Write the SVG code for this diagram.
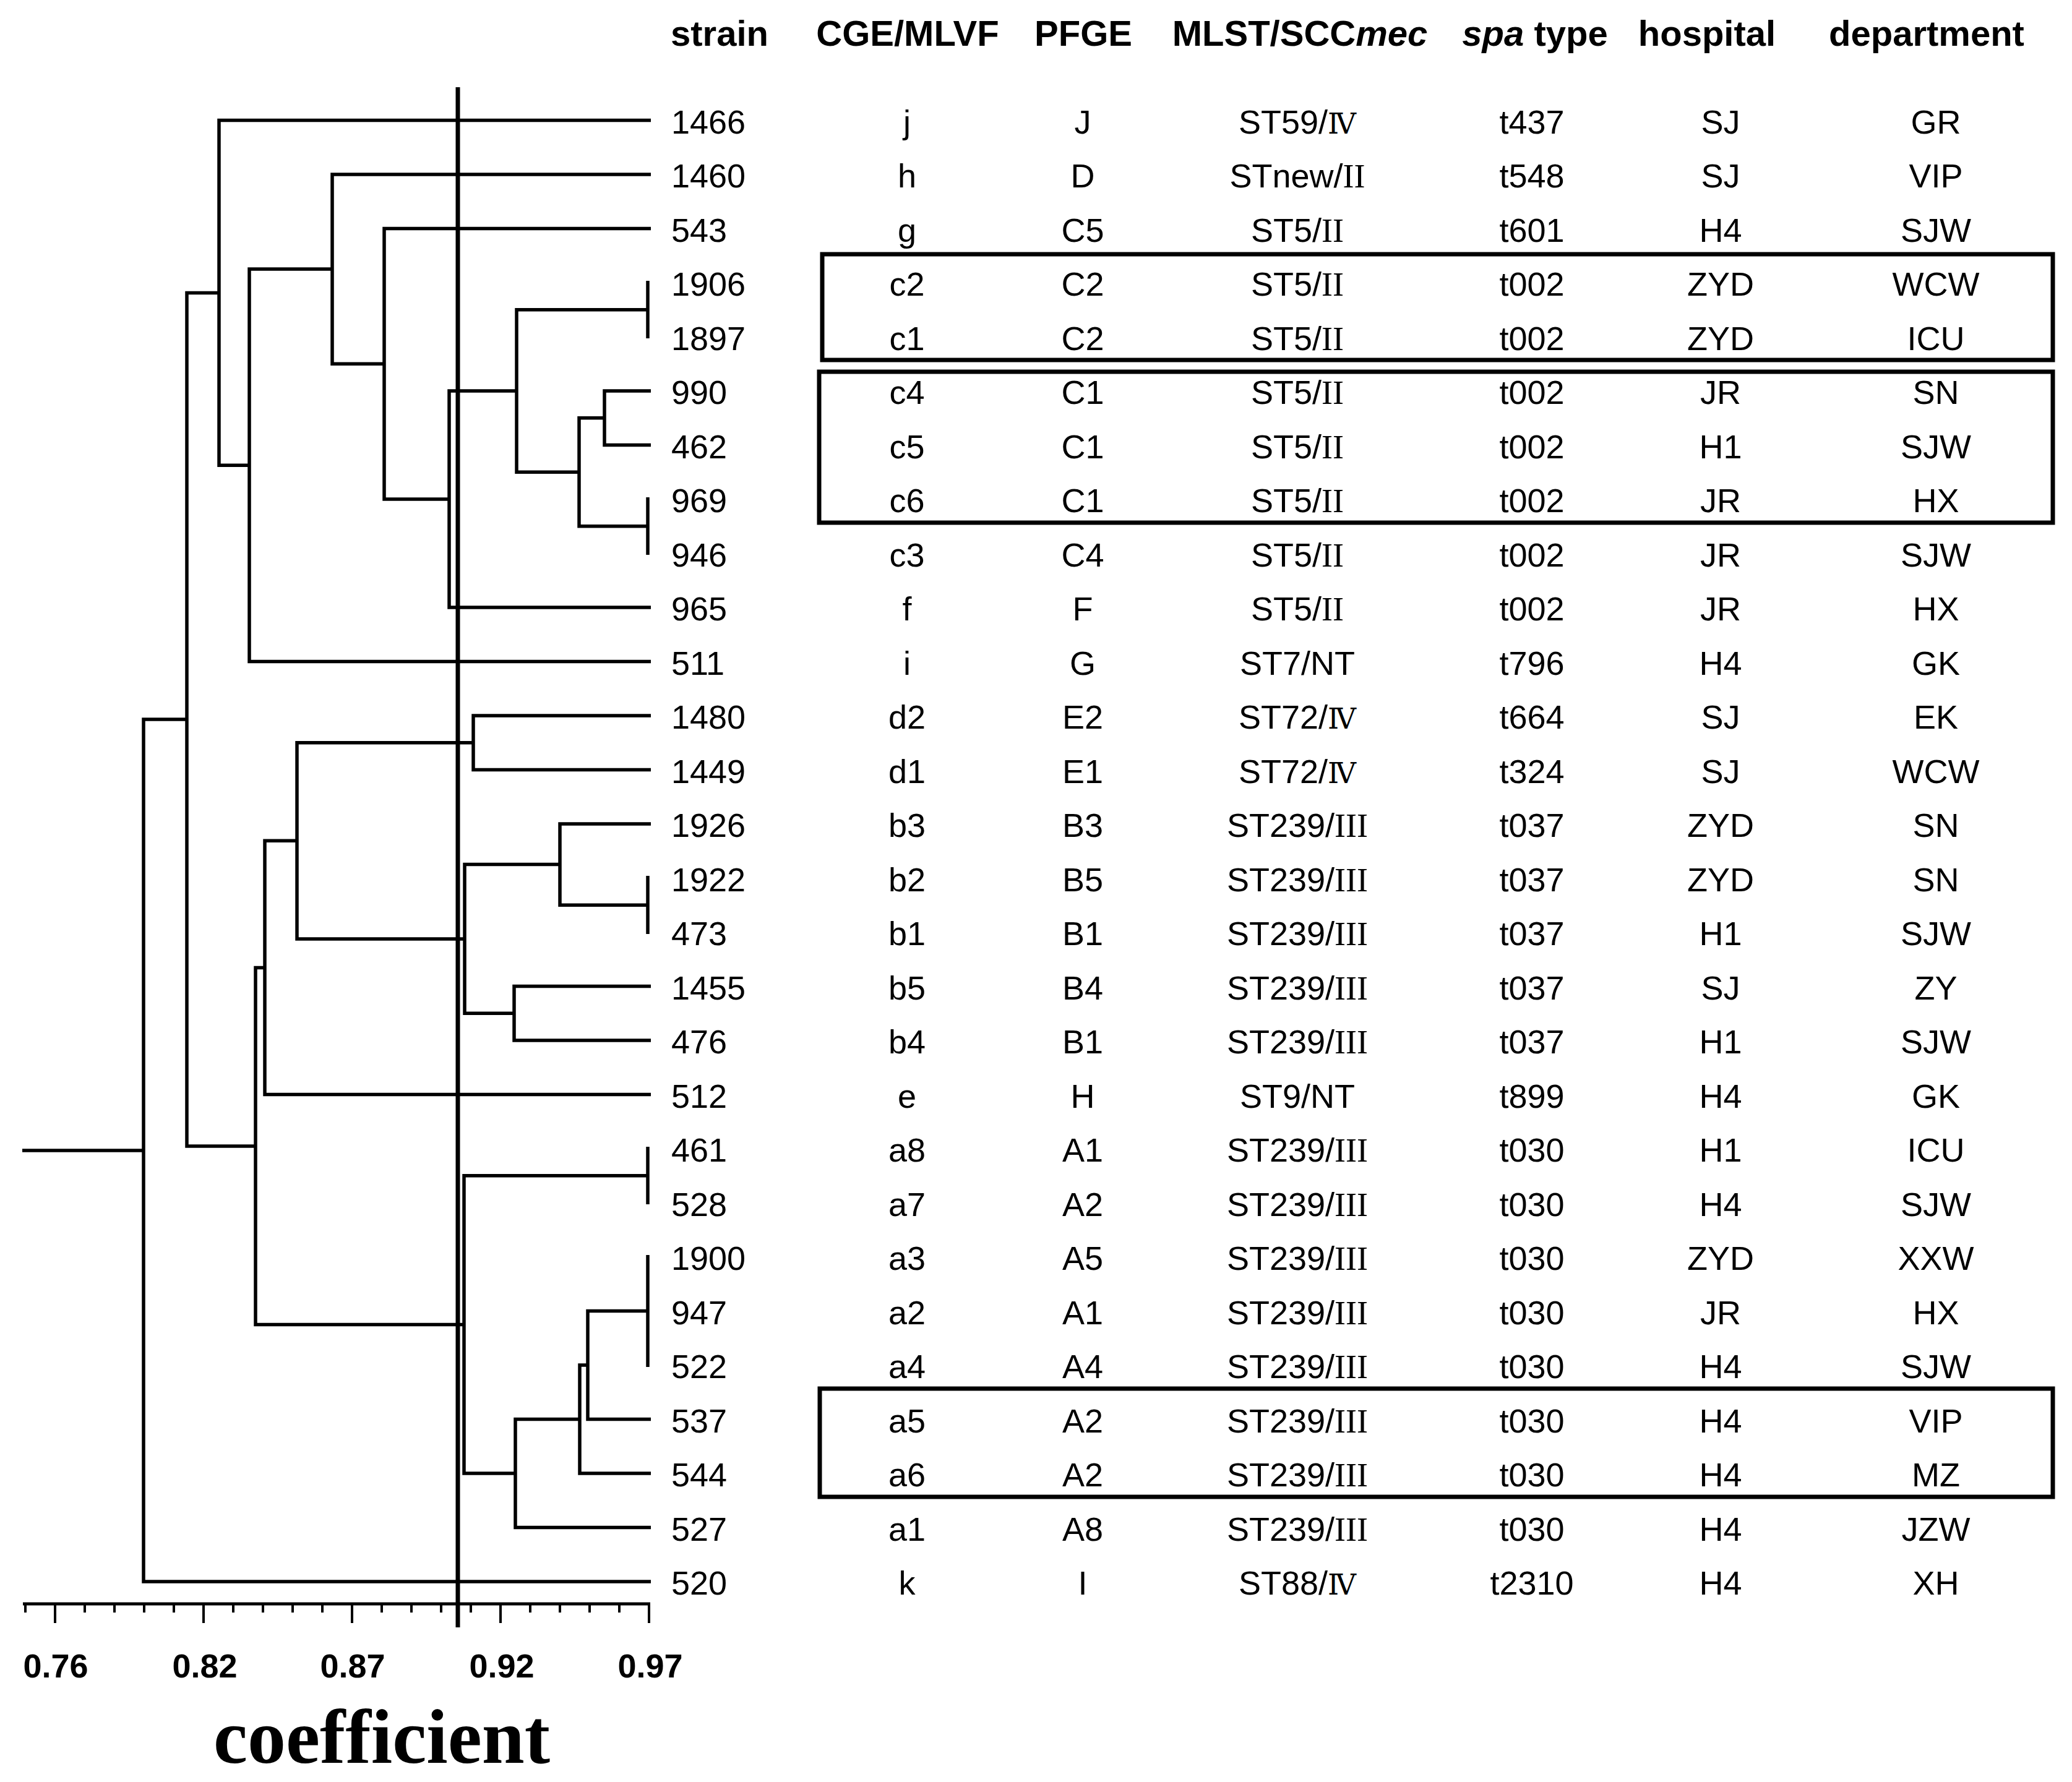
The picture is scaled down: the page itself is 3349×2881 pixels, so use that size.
<svg xmlns="http://www.w3.org/2000/svg" width="3349" height="2881" viewBox="0 0 3349 2881">
<style>
.bg{fill:#fff}
.ln{fill:none;stroke:#000;stroke-width:5.5;stroke-linejoin:miter}
.cut{fill:none;stroke:#000;stroke-width:7}
.ax{fill:none;stroke:#000;stroke-width:5}
.tk{fill:none;stroke:#000;stroke-width:4}
.box{fill:none;stroke:#000;stroke-width:7}
text{font-family:"Liberation Sans",Arial,sans-serif;fill:#000}
.h{font-size:58px;font-weight:bold}
.t{font-size:54px}
.m{text-anchor:middle}
.i{font-style:italic}
.r{font-family:"Liberation Serif","Times New Roman",serif}
.rn{font-family:"DejaVu Serif","Liberation Serif","Noto Sans CJK SC",serif;font-size:46px}
.tl{font-size:54px;font-weight:bold;text-anchor:middle}
.co{font-family:"Liberation Serif","Times New Roman",serif;font-size:124px;font-weight:bold;text-anchor:middle}
</style>
<rect class="bg" x="0" y="0" width="3349" height="2881"/>

<g id="headers">
<text class="h" x="1084" y="74">strain</text>
<text class="h m" x="1467" y="74">CGE/MLVF</text>
<text class="h m" x="1751" y="74">PFGE</text>
<text class="h m" x="2101" y="74">MLST/SCC<tspan class="i">mec</tspan></text>
<text class="h m" x="2481" y="74"><tspan class="i">spa</tspan> type</text>
<text class="h m" x="2759" y="74">hospital</text>
<text class="h m" x="3114" y="74">department</text>
</g>

<g id="connectors" transform="translate(0,3)">
<path class="ln" d="M1047,451 V544"/>
<path class="ln" d="M1052,629 H977 V716.5 H1052"/>
<path class="ln" d="M1047,801 V894"/>
<path class="ln" d="M977,672.75 H936 V847.75 H1047"/>
<path class="ln" d="M1047,497.75 H835 V760.25 H936"/>
<path class="ln" d="M835,629 H726 V979 H1052"/>
<path class="ln" d="M1052,366.5 H621 V804 H726"/>
<path class="ln" d="M1052,279 H537 V585.25 H621"/>
<path class="ln" d="M537,432 H403 V1066.5 H1052"/>
<path class="ln" d="M1052,191.5 H354 V749.3 H403"/>
<path class="ln" d="M354,470.4 H302 V1849.9 H413"/>
<path class="ln" d="M302,1160 H232 V2554 H1052"/>
<path class="ln" d="M36,1857 H232"/>
<path class="ln" d="M428,1561.4 H413 V2138.4 H750"/>
<path class="ln" d="M480,1356.3 H428 V1766.5 H1052"/>
<path class="ln" d="M765,1197.75 H480 V1514.9 H751"/>
<path class="ln" d="M1052,1154 H765 V1241.5 H1052"/>
<path class="ln" d="M905,1394.6 H751 V1635.25 H831"/>
<path class="ln" d="M1052,1329 H905 V1460.25 H1047"/>
<path class="ln" d="M1047,1413 V1507"/>
<path class="ln" d="M1052,1591.5 H831 V1679 H1052"/>
<path class="ln" d="M1047,1897.75 H750 V2379 H833"/>
<path class="ln" d="M1047,1851 V1944"/>
<path class="ln" d="M937,2291.5 H833 V2466.5 H1052"/>
<path class="ln" d="M950,2204 H937 V2379 H1052"/>
<path class="ln" d="M1047,2116.5 H950 V2291.5 H1052"/>
<path class="ln" d="M1047,2026 V2207"/>
</g>

<g id="cutoff">
<path class="cut" d="M740,141 V2631"/>
</g>

<g id="axis">
<path class="ax" d="M37,2593 H1051"/>
<path class="tk" d="M89,2593 V2624 M329,2593 V2624 M569,2593 V2624 M809,2593 V2624 M1049,2593 V2624"/>
<path class="tk" d="M41,2593 V2607 M137,2593 V2607 M185,2593 V2607 M233,2593 V2607 M281,2593 V2607 M377,2593 V2607 M425,2593 V2607 M473,2593 V2607 M521,2593 V2607 M617,2593 V2607 M665,2593 V2607 M713,2593 V2607 M761,2593 V2607 M857,2593 V2607 M905,2593 V2607 M953,2593 V2607 M1001,2593 V2607"/>
<text class="tl" x="90" y="2712">0.76</text>
<text class="tl" x="331" y="2712">0.82</text>
<text class="tl" x="570" y="2712">0.87</text>
<text class="tl" x="811" y="2712">0.92</text>
<text class="tl" x="1051" y="2712">0.97</text>
<text class="co" x="617" y="2850">coefficient</text>
</g>

<g id="boxes">
<rect class="box" x="1329" y="411" width="1989" height="171"/>
<rect class="box" x="1324" y="601" width="1994" height="244"/>
<rect class="box" x="1325" y="2245" width="1993" height="175"/>
</g>

<g id="rows" transform="translate(0,3)">
<g id="row-1466"><text class="t" x="1085" y="212.5">1466</text><text class="t m" x="1466" y="212.5">j</text><text class="t m" x="1750" y="212.5">J</text><text class="t m" x="2097" y="212.5">ST59/<tspan class="rn">Ⅳ</tspan></text><text class="t m" x="2476" y="212.5">t437</text><text class="t m" x="2781" y="212.5">SJ</text><text class="t m" x="3129" y="212.5">GR</text></g>
<g id="row-1460"><text class="t" x="1085" y="300">1460</text><text class="t m" x="1466" y="300">h</text><text class="t m" x="1750" y="300">D</text><text class="t m" x="2097" y="300">STnew/<tspan class="r">II</tspan></text><text class="t m" x="2476" y="300">t548</text><text class="t m" x="2781" y="300">SJ</text><text class="t m" x="3129" y="300">VIP</text></g>
<g id="row-543"><text class="t" x="1085" y="387.5">543</text><text class="t m" x="1466" y="387.5">g</text><text class="t m" x="1750" y="387.5">C5</text><text class="t m" x="2097" y="387.5">ST5/<tspan class="r">II</tspan></text><text class="t m" x="2476" y="387.5">t601</text><text class="t m" x="2781" y="387.5">H4</text><text class="t m" x="3129" y="387.5">SJW</text></g>
<g id="row-1906"><text class="t" x="1085" y="475">1906</text><text class="t m" x="1466" y="475">c2</text><text class="t m" x="1750" y="475">C2</text><text class="t m" x="2097" y="475">ST5/<tspan class="r">II</tspan></text><text class="t m" x="2476" y="475">t002</text><text class="t m" x="2781" y="475">ZYD</text><text class="t m" x="3129" y="475">WCW</text></g>
<g id="row-1897"><text class="t" x="1085" y="562.5">1897</text><text class="t m" x="1466" y="562.5">c1</text><text class="t m" x="1750" y="562.5">C2</text><text class="t m" x="2097" y="562.5">ST5/<tspan class="r">II</tspan></text><text class="t m" x="2476" y="562.5">t002</text><text class="t m" x="2781" y="562.5">ZYD</text><text class="t m" x="3129" y="562.5">ICU</text></g>
<g id="row-990"><text class="t" x="1085" y="650">990</text><text class="t m" x="1466" y="650">c4</text><text class="t m" x="1750" y="650">C1</text><text class="t m" x="2097" y="650">ST5/<tspan class="r">II</tspan></text><text class="t m" x="2476" y="650">t002</text><text class="t m" x="2781" y="650">JR</text><text class="t m" x="3129" y="650">SN</text></g>
<g id="row-462"><text class="t" x="1085" y="737.5">462</text><text class="t m" x="1466" y="737.5">c5</text><text class="t m" x="1750" y="737.5">C1</text><text class="t m" x="2097" y="737.5">ST5/<tspan class="r">II</tspan></text><text class="t m" x="2476" y="737.5">t002</text><text class="t m" x="2781" y="737.5">H1</text><text class="t m" x="3129" y="737.5">SJW</text></g>
<g id="row-969"><text class="t" x="1085" y="825">969</text><text class="t m" x="1466" y="825">c6</text><text class="t m" x="1750" y="825">C1</text><text class="t m" x="2097" y="825">ST5/<tspan class="r">II</tspan></text><text class="t m" x="2476" y="825">t002</text><text class="t m" x="2781" y="825">JR</text><text class="t m" x="3129" y="825">HX</text></g>
<g id="row-946"><text class="t" x="1085" y="912.5">946</text><text class="t m" x="1466" y="912.5">c3</text><text class="t m" x="1750" y="912.5">C4</text><text class="t m" x="2097" y="912.5">ST5/<tspan class="r">II</tspan></text><text class="t m" x="2476" y="912.5">t002</text><text class="t m" x="2781" y="912.5">JR</text><text class="t m" x="3129" y="912.5">SJW</text></g>
<g id="row-965"><text class="t" x="1085" y="1000">965</text><text class="t m" x="1466" y="1000">f</text><text class="t m" x="1750" y="1000">F</text><text class="t m" x="2097" y="1000">ST5/<tspan class="r">II</tspan></text><text class="t m" x="2476" y="1000">t002</text><text class="t m" x="2781" y="1000">JR</text><text class="t m" x="3129" y="1000">HX</text></g>
<g id="row-511"><text class="t" x="1085" y="1087.5">511</text><text class="t m" x="1466" y="1087.5">i</text><text class="t m" x="1750" y="1087.5">G</text><text class="t m" x="2097" y="1087.5">ST7/NT</text><text class="t m" x="2476" y="1087.5">t796</text><text class="t m" x="2781" y="1087.5">H4</text><text class="t m" x="3129" y="1087.5">GK</text></g>
<g id="row-1480"><text class="t" x="1085" y="1175">1480</text><text class="t m" x="1466" y="1175">d2</text><text class="t m" x="1750" y="1175">E2</text><text class="t m" x="2097" y="1175">ST72/<tspan class="rn">Ⅳ</tspan></text><text class="t m" x="2476" y="1175">t664</text><text class="t m" x="2781" y="1175">SJ</text><text class="t m" x="3129" y="1175">EK</text></g>
<g id="row-1449"><text class="t" x="1085" y="1262.5">1449</text><text class="t m" x="1466" y="1262.5">d1</text><text class="t m" x="1750" y="1262.5">E1</text><text class="t m" x="2097" y="1262.5">ST72/<tspan class="rn">Ⅳ</tspan></text><text class="t m" x="2476" y="1262.5">t324</text><text class="t m" x="2781" y="1262.5">SJ</text><text class="t m" x="3129" y="1262.5">WCW</text></g>
<g id="row-1926"><text class="t" x="1085" y="1350">1926</text><text class="t m" x="1466" y="1350">b3</text><text class="t m" x="1750" y="1350">B3</text><text class="t m" x="2097" y="1350">ST239/<tspan class="r">III</tspan></text><text class="t m" x="2476" y="1350">t037</text><text class="t m" x="2781" y="1350">ZYD</text><text class="t m" x="3129" y="1350">SN</text></g>
<g id="row-1922"><text class="t" x="1085" y="1437.5">1922</text><text class="t m" x="1466" y="1437.5">b2</text><text class="t m" x="1750" y="1437.5">B5</text><text class="t m" x="2097" y="1437.5">ST239/<tspan class="r">III</tspan></text><text class="t m" x="2476" y="1437.5">t037</text><text class="t m" x="2781" y="1437.5">ZYD</text><text class="t m" x="3129" y="1437.5">SN</text></g>
<g id="row-473"><text class="t" x="1085" y="1525">473</text><text class="t m" x="1466" y="1525">b1</text><text class="t m" x="1750" y="1525">B1</text><text class="t m" x="2097" y="1525">ST239/<tspan class="r">III</tspan></text><text class="t m" x="2476" y="1525">t037</text><text class="t m" x="2781" y="1525">H1</text><text class="t m" x="3129" y="1525">SJW</text></g>
<g id="row-1455"><text class="t" x="1085" y="1612.5">1455</text><text class="t m" x="1466" y="1612.5">b5</text><text class="t m" x="1750" y="1612.5">B4</text><text class="t m" x="2097" y="1612.5">ST239/<tspan class="r">III</tspan></text><text class="t m" x="2476" y="1612.5">t037</text><text class="t m" x="2781" y="1612.5">SJ</text><text class="t m" x="3129" y="1612.5">ZY</text></g>
<g id="row-476"><text class="t" x="1085" y="1700">476</text><text class="t m" x="1466" y="1700">b4</text><text class="t m" x="1750" y="1700">B1</text><text class="t m" x="2097" y="1700">ST239/<tspan class="r">III</tspan></text><text class="t m" x="2476" y="1700">t037</text><text class="t m" x="2781" y="1700">H1</text><text class="t m" x="3129" y="1700">SJW</text></g>
<g id="row-512"><text class="t" x="1085" y="1787.5">512</text><text class="t m" x="1466" y="1787.5">e</text><text class="t m" x="1750" y="1787.5">H</text><text class="t m" x="2097" y="1787.5">ST9/NT</text><text class="t m" x="2476" y="1787.5">t899</text><text class="t m" x="2781" y="1787.5">H4</text><text class="t m" x="3129" y="1787.5">GK</text></g>
<g id="row-461"><text class="t" x="1085" y="1875">461</text><text class="t m" x="1466" y="1875">a8</text><text class="t m" x="1750" y="1875">A1</text><text class="t m" x="2097" y="1875">ST239/<tspan class="r">III</tspan></text><text class="t m" x="2476" y="1875">t030</text><text class="t m" x="2781" y="1875">H1</text><text class="t m" x="3129" y="1875">ICU</text></g>
<g id="row-528"><text class="t" x="1085" y="1962.5">528</text><text class="t m" x="1466" y="1962.5">a7</text><text class="t m" x="1750" y="1962.5">A2</text><text class="t m" x="2097" y="1962.5">ST239/<tspan class="r">III</tspan></text><text class="t m" x="2476" y="1962.5">t030</text><text class="t m" x="2781" y="1962.5">H4</text><text class="t m" x="3129" y="1962.5">SJW</text></g>
<g id="row-1900"><text class="t" x="1085" y="2050">1900</text><text class="t m" x="1466" y="2050">a3</text><text class="t m" x="1750" y="2050">A5</text><text class="t m" x="2097" y="2050">ST239/<tspan class="r">III</tspan></text><text class="t m" x="2476" y="2050">t030</text><text class="t m" x="2781" y="2050">ZYD</text><text class="t m" x="3129" y="2050">XXW</text></g>
<g id="row-947"><text class="t" x="1085" y="2137.5">947</text><text class="t m" x="1466" y="2137.5">a2</text><text class="t m" x="1750" y="2137.5">A1</text><text class="t m" x="2097" y="2137.5">ST239/<tspan class="r">III</tspan></text><text class="t m" x="2476" y="2137.5">t030</text><text class="t m" x="2781" y="2137.5">JR</text><text class="t m" x="3129" y="2137.5">HX</text></g>
<g id="row-522"><text class="t" x="1085" y="2225">522</text><text class="t m" x="1466" y="2225">a4</text><text class="t m" x="1750" y="2225">A4</text><text class="t m" x="2097" y="2225">ST239/<tspan class="r">III</tspan></text><text class="t m" x="2476" y="2225">t030</text><text class="t m" x="2781" y="2225">H4</text><text class="t m" x="3129" y="2225">SJW</text></g>
<g id="row-537"><text class="t" x="1085" y="2312.5">537</text><text class="t m" x="1466" y="2312.5">a5</text><text class="t m" x="1750" y="2312.5">A2</text><text class="t m" x="2097" y="2312.5">ST239/<tspan class="r">III</tspan></text><text class="t m" x="2476" y="2312.5">t030</text><text class="t m" x="2781" y="2312.5">H4</text><text class="t m" x="3129" y="2312.5">VIP</text></g>
<g id="row-544"><text class="t" x="1085" y="2400">544</text><text class="t m" x="1466" y="2400">a6</text><text class="t m" x="1750" y="2400">A2</text><text class="t m" x="2097" y="2400">ST239/<tspan class="r">III</tspan></text><text class="t m" x="2476" y="2400">t030</text><text class="t m" x="2781" y="2400">H4</text><text class="t m" x="3129" y="2400">MZ</text></g>
<g id="row-527"><text class="t" x="1085" y="2487.5">527</text><text class="t m" x="1466" y="2487.5">a1</text><text class="t m" x="1750" y="2487.5">A8</text><text class="t m" x="2097" y="2487.5">ST239/<tspan class="r">III</tspan></text><text class="t m" x="2476" y="2487.5">t030</text><text class="t m" x="2781" y="2487.5">H4</text><text class="t m" x="3129" y="2487.5">JZW</text></g>
<g id="row-520"><text class="t" x="1085" y="2575">520</text><text class="t m" x="1466" y="2575">k</text><text class="t m" x="1750" y="2575">I</text><text class="t m" x="2097" y="2575">ST88/<tspan class="rn">Ⅳ</tspan></text><text class="t m" x="2476" y="2575">t2310</text><text class="t m" x="2781" y="2575">H4</text><text class="t m" x="3129" y="2575">XH</text></g>
</g>
</svg>
